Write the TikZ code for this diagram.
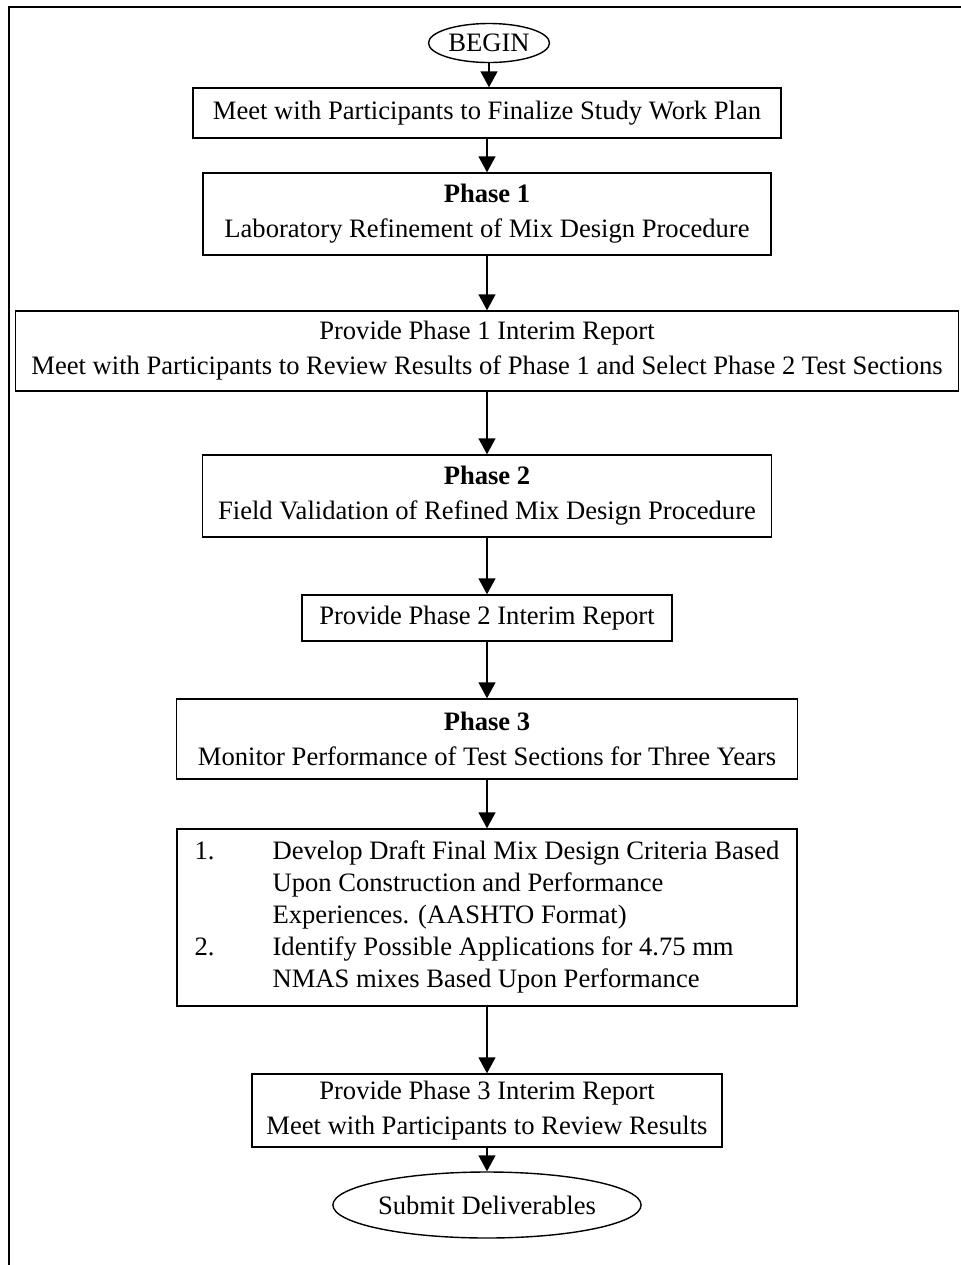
\documentclass[tikz,border=0pt]{standalone}
\usepackage{fontspec}
\setmainfont{Liberation Serif}
\usetikzlibrary{arrows.meta,shapes.geometric}

\tikzset{
  stepbox/.style={draw,line width=0.7pt,align=center,inner sep=0pt},
  endcap/.style={draw,ellipse,line width=0.7pt,inner sep=0pt},
  flow/.style={line width=0.7pt,-{Triangle[length=8pt,width=8.5pt]}},
}

\begin{document}
\begin{tikzpicture}[x=0.5pt,y=-0.5pt,font=\fontsize{13.3}{17.5}\selectfont]
        \useasboundingbox (0,0) rectangle (961,1265);
        % outer frame
        \draw[line width=1.1pt] (961,7) -- (9,7) -- (9,1265);
        % start and work plan
        \node[endcap,minimum width=60.5pt,minimum height=19.5pt] (begin) at (489,43) {BEGIN};
        \node[stepbox,minimum width=294pt,minimum height=25pt] (plan) at (487,113)
            {Meet with Participants to Finalize Study Work Plan};
        % Phase 1
        \node[stepbox,minimum width=284pt,minimum height=41pt] (phaseA) at (487,214)
            {\textbf{Phase 1}\\Laboratory Refinement of Mix Design Procedure};
        \node[stepbox,minimum width=471.5pt,minimum height=40pt] (reportA) at (487,351)
            {Provide Phase 1 Interim Report\\Meet with Participants to Review Results of Phase 1 and Select Phase 2 Test Sections};
        % Phase 2
        \node[stepbox,minimum width=284.5pt,minimum height=41pt] (phaseB) at (487,496)
            {\textbf{Phase 2}\\Field Validation of Refined Mix Design Procedure};
        \node[stepbox,minimum width=185pt,minimum height=23pt] (reportB) at (487,618)
            {Provide Phase 2 Interim Report};
        % Phase 3
        \node[stepbox,minimum width=310.5pt,minimum height=40pt] (phaseC) at (487,739)
            {\textbf{Phase 3}\\Monitor Performance of Test Sections for Three Years};
        \node[stepbox,minimum width=310pt,minimum height=88.5pt,font=\fontsize{13.3}{16}\selectfont] (tasks) at (487,917.5)
            {\begin{tabular}{@{}p{39pt}@{}l@{}}
             1. & Develop Draft Final Mix Design Criteria Based\\
                & Upon Construction and Performance\\
                & Experiences. (AASHTO Format)\\
             2. & Identify Possible Applications for 4.75 mm\\
                & NMAS mixes Based Upon Performance
             \end{tabular}};
        \node[stepbox,minimum width=235pt,minimum height=36.5pt] (reportC) at (487,1110.5)
            {Provide Phase 3 Interim Report\\Meet with Participants to Review Results};
        \node[endcap,minimum width=136pt,minimum height=33pt] (submit) at (487,1205) {Submit Deliverables};
        % connectors
        \draw[flow] (begin.south) -- (begin.south |- plan.north);
        \foreach \a/\b in {plan/phaseA,phaseA/reportA,reportA/phaseB,phaseB/reportB,reportB/phaseC,phaseC/tasks,tasks/reportC,reportC/submit}
            \draw[flow] (\a) -- (\b);
\end{tikzpicture}
\end{document}
